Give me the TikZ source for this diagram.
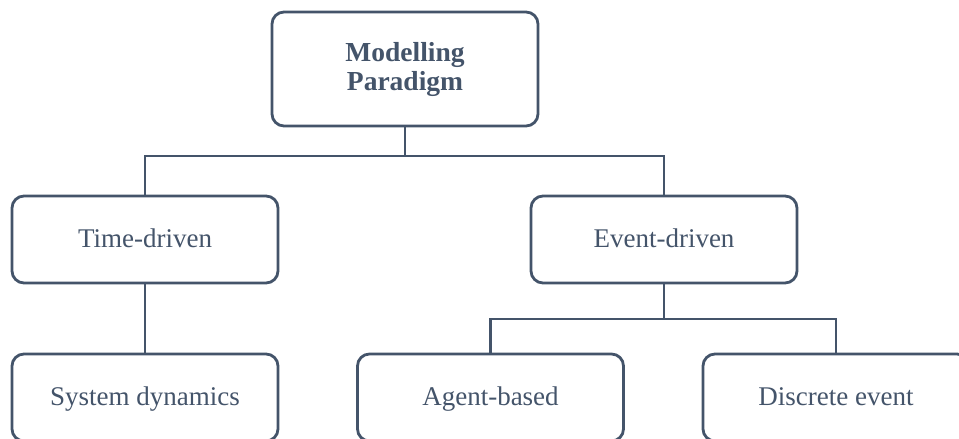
\documentclass[tikz,border=0pt]{standalone}
\usepackage{fontspec}
\setmainfont{Liberation Serif}
\definecolor{slate}{HTML}{44546A}
\begin{document}
\begin{tikzpicture}[x=1pt,y=1pt,
  box/.style={draw=slate, line width=2.8pt, rounded corners=12pt, fill=white,
    text=slate, minimum width=266pt, minimum height=87pt, align=center,
    inner sep=0pt, font=\fontsize{27}{30}\selectfont},
  leaf/.style={box, text height=22pt, text depth=5pt},
  link/.style={draw=slate, line width=2.8pt}]
\useasboundingbox (0,0) rectangle (959,439);
% boxes (y measured upward from the bottom edge)
\node[box, minimum height=114pt, font=\fontsize{27.5}{29}\selectfont\bfseries]
  (root) at (405,370) {Modelling\\Paradigm};
\node[leaf] (time) at (145,199.5) {Time-driven};
\node[leaf] (event) at (664,199.5) {Event-driven};
\node[leaf] (sysdyn) at (145,41.5) {System dynamics};
\node[leaf] (agent) at (490.5,41.5) {Agent-based};
\node[leaf] (discrete) at (836,41.5) {Discrete event};
% junctions of the tree
\coordinate (j1) at (405,283);
\coordinate (j2) at (664,120);
% connectors
\draw[link] (root.south) -- (j1) -| (time.north);
\draw[link] (j1) -| (event.north);
\draw[link] (time.south) -- (sysdyn.north);
\draw[link] (event.south) -- (j2) -| (agent.north);
\draw[link] (j2) -| (discrete.north);
\end{tikzpicture}
\end{document}
